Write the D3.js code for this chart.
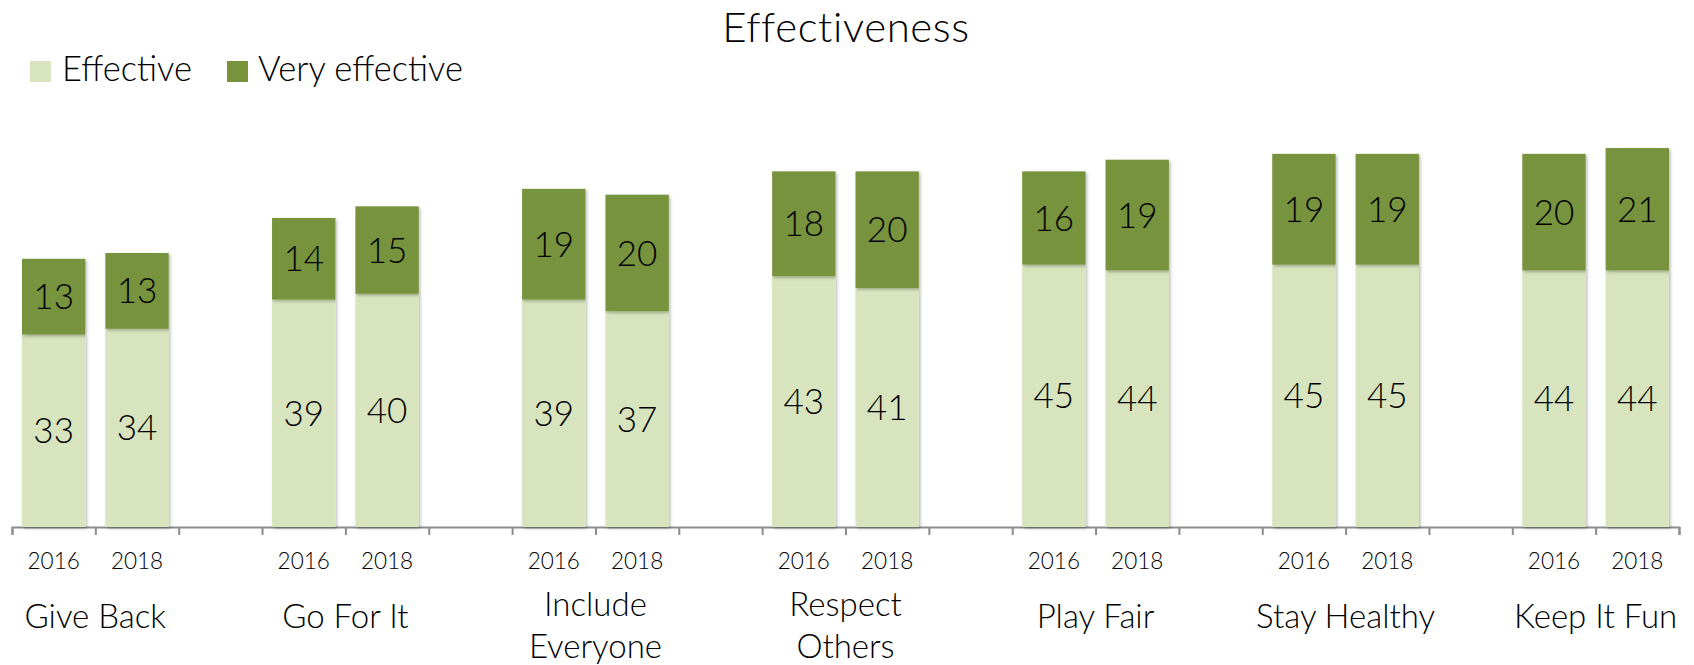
<!DOCTYPE html>
<html>
<head>
<meta charset="utf-8">
<script src="https://cdn.jsdelivr.net/npm/d3@7/dist/d3.min.js"></script>
<style>
  html, body { margin: 0; padding: 0; background: #fff; }
  svg { display: block; font-family: Lato, "Open Sans", sans-serif; font-weight: 300; }
</style>
</head>
<body>
<svg id="chart" width="1694" height="665"></svg>
<script>
// Survey results: share rating each value as effective / very effective
const categories = ["Give Back", "Go For It", "Include Everyone", "Respect Others", "Play Fair", "Stay Healthy", "Keep It Fun"];
const categoryLines = [["Give Back"], ["Go For It"], ["Include", "Everyone"], ["Respect", "Others"], ["Play Fair"], ["Stay Healthy"], ["Keep It Fun"]];
const years = ["2016", "2018"];
const effective = [[33, 34], [39, 40], [39, 37], [43, 41], [45, 44], [45, 45], [44, 44]];
const veryEffective = [[13, 13], [14, 15], [19, 20], [18, 20], [16, 19], [19, 19], [20, 21]];
const seriesNames = ["Effective", "Very effective"];
const colors = ["#d7e4bd", "#77933c"];

const svg = d3.select("#chart");

// Every category takes three slots on the axis (two years and a gap); the last has no gap
const slotCount = categories.length * 3 - 1;
const x0 = 12, x1 = 1679;
const slot = d3.scaleBand().domain(d3.range(slotCount)).range([x0, x1])
  .paddingInner(0.24).paddingOuter(0.12);
const slotEdge = d3.scaleLinear().domain([0, slotCount]).range([x0, x1]);
const y = d3.scaleLinear().domain([0, 70]).range([527, 527 - 70 * 5.83]);

const rows = [];
categories.forEach((c, g) => {
  years.forEach((yr, i) => {
    rows.push({ cat: c, g, year: yr, slot: g * 3 + i, eff: effective[g][i], very: veryEffective[g][i] });
  });
});

// soft shadow under the bars
const defs = svg.append("defs");
const f = defs.append("filter").attr("id", "shadow").attr("x", "-20%").attr("y", "-20%").attr("width", "140%").attr("height", "140%");
f.append("feDropShadow").attr("dx", 1.5).attr("dy", 1.5).attr("stdDeviation", 1.8)
  .attr("flood-color", "#000").attr("flood-opacity", 0.28);

// Title
svg.append("text").attr("x", 846).attr("y", 42).attr("text-anchor", "middle")
  .attr("font-size", 42).attr("letter-spacing", 0.6).attr("fill", "#000").text("Effectiveness");

// Legend
const legendItems = [{ x: 30, tx: 62 }, { x: 227, tx: 258 }];
legendItems.forEach((d, i) => {
  svg.append("rect").attr("x", d.x).attr("y", 61).attr("width", 21).attr("height", 21).attr("fill", colors[i]);
  svg.append("text").attr("x", d.tx).attr("y", 81).attr("font-size", 34.5).attr("fill", "#000").text(seriesNames[i]);
});

// Axis at slot boundaries
const axis = d3.axisBottom(slotEdge).tickValues(d3.range(slotCount + 1)).tickFormat("").tickSize(8).tickSizeOuter(8);
const ax = svg.append("g").attr("transform", `translate(0,${y(0)})`).call(axis);
ax.selectAll("path, line").attr("stroke", "#8c8c8c").attr("stroke-width", 2);

// Stacked bars
const bars = svg.append("g");
const barG = bars.selectAll("g").data(rows).join("g");
barG.append("rect")
  .attr("x", d => slot(d.slot)).attr("width", slot.bandwidth())
  .attr("y", d => y(d.eff)).attr("height", d => y(0) - y(d.eff))
  .attr("fill", colors[0]).attr("filter", "url(#shadow)");
barG.append("rect")
  .attr("x", d => slot(d.slot)).attr("width", slot.bandwidth())
  .attr("y", d => y(d.eff + d.very)).attr("height", d => y(d.eff) - y(d.eff + d.very))
  .attr("fill", colors[1]).attr("filter", "url(#shadow)");

// Value labels in the middle of each segment
const cx = d => slot(d.slot) + slot.bandwidth() / 2;
barG.append("text").attr("x", cx).attr("y", d => y(d.eff / 2))
  .attr("dy", "0.36em").attr("text-anchor", "middle").attr("font-size", 35).attr("fill", "#000")
  .text(d => d.eff);
barG.append("text").attr("x", cx).attr("y", d => y(d.eff + d.very / 2))
  .attr("dy", "0.36em").attr("text-anchor", "middle").attr("font-size", 35).attr("fill", "#000")
  .text(d => d.very);

// Year labels
svg.append("g").selectAll("text").data(rows).join("text")
  .attr("x", cx).attr("y", 569).attr("text-anchor", "middle")
  .attr("font-size", 22.5).attr("fill", "#000").text(d => d.year);

// Category labels, centred under each pair of bars
svg.append("g").selectAll("text").data(categoryLines).join("text")
  .attr("x", (d, g) => (slotEdge(g * 3) + slotEdge(g * 3 + 2)) / 2)
  .attr("text-anchor", "middle").attr("font-size", 33).attr("fill", "#000")
  .each(function (lines) {
    const t = d3.select(this);
    if (lines.length === 1) {
      t.attr("y", 628).text(lines[0]);
    } else {
      lines.forEach((l, k) => t.append("tspan").attr("x", t.attr("x")).attr("y", 616 + k * 42).text(l));
    }
  });
</script>
</body>
</html>
